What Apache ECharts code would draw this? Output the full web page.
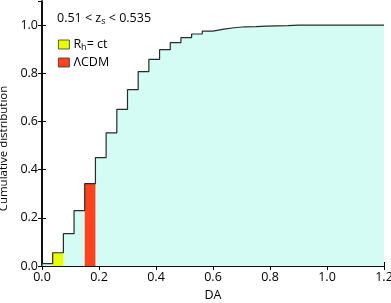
<!DOCTYPE html>
<html><head><meta charset="utf-8">
<script src="https://cdn.jsdelivr.net/npm/echarts@6/dist/echarts.min.js"></script>
<style>html,body{margin:0;padding:0;background:#fff}#c{width:391px;height:303px}</style>
</head><body><div id="c"></div>
<script>
// bin edges (DA)
var binEdges = [0, 0.0375, 0.075, 0.1125, 0.15, 0.1875, 0.225, 0.2625, 0.3, 0.3375, 0.375, 0.4125, 0.45, 0.4875, 0.525, 0.5625, 0.6, 0.6375, 0.675, 0.7125, 0.75, 0.7875, 0.825, 0.8625, 0.9, 0.9375, 0.975, 1.0125, 1.05, 1.0875, 1.125, 1.1625, 1.2];
// cumulative distribution per bin
var cumValues = [0.01, 0.055, 0.134, 0.23, 0.342, 0.45, 0.553, 0.65, 0.732, 0.807, 0.858, 0.898, 0.927, 0.948, 0.963, 0.975, 0.983, 0.989, 0.993, 0.994, 0.996, 0.997, 0.998, 1.0, 1.0, 1.0, 1.0, 1.0, 1.0, 1.0, 1.0, 1.0];
// highlighted bins: [x0, x1, value]
var rhBin = [[0.0375, 0.075, 0.055]];
var lcdmBin = [[0.15, 0.1875, 0.342]];

var stepData = [[binEdges[0], 0]];
for (var i = 0; i < cumValues.length; i++) stepData.push([binEdges[i], cumValues[i]]);
stepData.push([binEdges[binEdges.length - 1], cumValues[cumValues.length - 1]]);

function rectItem(params, api) {
  var p0 = api.coord([api.value(0), api.value(2)]);
  var p1 = api.coord([api.value(1), 0]);
  return { type: 'rect', shape: { x: p0[0], y: p0[1], width: p1[0] - p0[0], height: p1[1] - p0[1] },
           style: { fill: api.visual('color') } };
}
var FONT = 'Open Sans';
var FS = 12.5;
var chart = echarts.init(document.getElementById('c'));
var axisCommon = {
  axisLine: { show: true, lineStyle: { color: '#000', width: 1.5 } },
  axisTick: { show: true, inside: true, length: 4, lineStyle: { color: '#000' } },
  splitLine: { show: false }
};
var rich = { a: { fontFamily: FONT, fontSize: FS, color: '#000' }, s: { fontFamily: FONT, fontSize: 9, color: '#000', padding: [6, 0, 0, 0] } };
chart.setOption({
  animation: false,
  textStyle: { fontFamily: FONT },
  grid: { left: 42, right: 7, top: 1, bottom: 37, outerBoundsMode: 'none', containLabel: false },
  title: {
    left: 52, top: 6,
    text: '{a|0.51 < z}{s|s}{a| < 0.535}',
    textStyle: { fontWeight: 'normal', fontSize: FS, fontFamily: FONT, color: '#000', rich: rich }
  },
  legend: {
    left: 53, top: 33, orient: 'vertical', itemGap: 4, itemWidth: 11, itemHeight: 9,
    icon: 'rect',
    data: ['Rh', 'LCDM'],
    formatter: function (n) { return n === 'Rh' ? '{a|R}{s|h}{a|= ct}' : '{a|\u039BCDM}'; },
    textStyle: { fontSize: FS, padding: [0, 0, 0, -1], rich: rich },
    itemStyle: { borderColor: '#333', borderWidth: 0.8 }
  },
  xAxis: [
    Object.assign({ type: 'value', min: 0, max: 1.2, interval: 0.2, position: 'bottom',
      name: 'DA', nameLocation: 'middle', nameGap: 23, nameTextStyle: { fontFamily: FONT, fontSize: FS, color: '#000' },
      axisLabel: { fontFamily: FONT, fontSize: FS, color: '#000', margin: 5, formatter: function (v) { return v.toFixed(1); } } }, axisCommon),
    Object.assign({ type: 'value', min: 0, max: 1.2, interval: 0.2, position: 'top', axisLabel: { show: false } }, axisCommon)
  ],
  yAxis: [
    Object.assign({ type: 'value', min: 0, max: 1.1, interval: 0.2, position: 'left',
      name: 'Cumulative distribution', nameLocation: 'middle', nameGap: 24,
      nameTextStyle: { fontFamily: FONT, fontSize: 11.5, color: '#000', padding: [0, 30, 0, 0] },
      axisLabel: { fontFamily: FONT, fontSize: FS, color: '#000', margin: 4, showMaxLabel: false, formatter: function (v) { return v.toFixed(1); } } }, axisCommon),
    Object.assign({ type: 'value', min: 0, max: 1.1, interval: 0.2, position: 'right', axisLabel: { show: false } }, axisCommon)
  ],
  series: [
    { type: 'line', name: 'cdfArea', step: 'end', data: stepData, symbol: 'none', z: 1, silent: true,
      lineStyle: { width: 0 }, areaStyle: { color: '#d4fcf5', opacity: 1 } },
    { type: 'custom', name: 'Rh', renderItem: rectItem, data: rhBin, z: 2, itemStyle: { color: '#e8ff00' }, encode: { x: [0, 1], y: 2 } },
    { type: 'custom', name: 'LCDM', renderItem: rectItem, data: lcdmBin, z: 2, itemStyle: { color: '#ff431e' }, encode: { x: [0, 1], y: 2 } },
    { type: 'line', name: 'cdf', step: 'end', data: stepData, symbol: 'none', z: 3,
      lineStyle: { color: '#2a2a2a', width: 1.2 } }
  ]
});
</script></body></html>
